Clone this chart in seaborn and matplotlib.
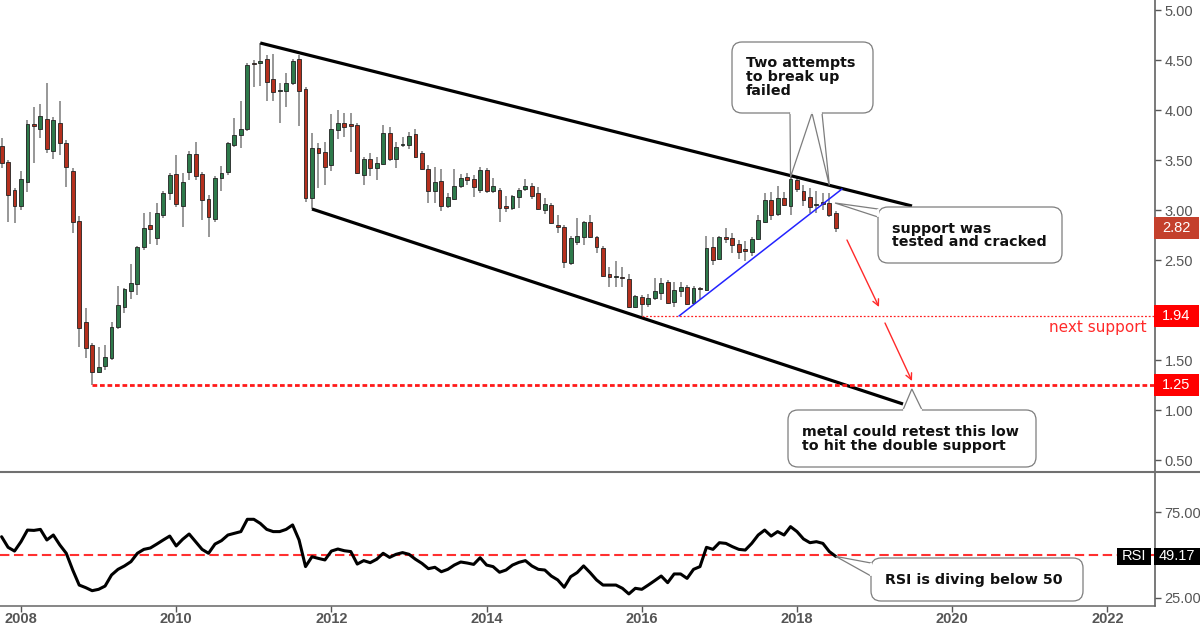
import numpy as np
import pandas as pd
import matplotlib
matplotlib.use('Agg')
import matplotlib.pyplot as plt
import seaborn as sns
from matplotlib.patches import FancyBboxPatch, Polygon, Rectangle
from matplotlib.lines import Line2D
from matplotlib.transforms import Affine2D, blended_transform_factory

# ---------------- data (monthly candles, Oct 2007 - Jul 2018) ----------------
months = pd.date_range('2007-10-01', periods=130, freq='MS')

opens = [3.64, 3.48, 3.20, 3.04, 3.28, 3.86, 3.81, 3.91, 3.59, 3.87,
         3.67, 3.39, 2.89, 1.88, 1.65, 1.38, 1.44, 1.52, 1.83, 2.03,
         2.19, 2.26, 2.63, 2.85, 2.72, 2.95, 3.17, 3.36, 3.04, 3.38,
         3.56, 3.36, 3.11, 2.91, 3.32, 3.38, 3.65, 3.75, 3.81, 4.47,
         4.47, 4.51, 4.31, 4.19, 4.19, 4.27, 4.51, 4.21, 3.12, 3.62,
         3.58, 3.45, 3.80, 3.87, 3.86, 3.85, 3.35, 3.51, 3.42, 3.46,
         3.77, 3.51, 3.65, 3.65, 3.76, 3.57, 3.41, 3.19, 3.29, 3.04,
         3.11, 3.24, 3.33, 3.31, 3.20, 3.40, 3.19, 3.20, 3.04, 3.02,
         3.13, 3.21, 3.24, 3.17, 3.00, 3.05, 2.85, 2.83, 2.47, 2.68,
         2.73, 2.88, 2.73, 2.62, 2.36, 2.33, 2.33, 2.31, 2.03, 2.13,
         2.06, 2.12, 2.17, 2.28, 2.08, 2.19, 2.23, 2.07, 2.22, 2.20,
         2.63, 2.51, 2.73, 2.72, 2.66, 2.61, 2.58, 2.71, 2.88, 3.10,
         2.96, 3.12, 3.04, 3.30, 3.19, 3.13, 3.05, 3.08, 3.07, 2.97]
highs = [3.72, 3.50, 3.22, 3.39, 3.90, 4.03, 4.06, 4.27, 3.93, 4.09,
         3.70, 3.42, 2.94, 2.02, 1.67, 1.63, 1.65, 1.88, 2.24, 2.22,
         2.46, 2.64, 2.97, 2.98, 3.07, 3.19, 3.37, 3.55, 3.37, 3.59,
         3.68, 3.38, 3.15, 3.34, 3.44, 3.68, 3.92, 4.09, 4.47, 4.50,
         4.67, 4.55, 4.56, 4.27, 4.37, 4.51, 4.55, 4.23, 3.77, 3.67,
         3.68, 3.96, 4.00, 3.97, 3.97, 3.87, 3.53, 3.57, 3.53, 3.85,
         3.83, 3.68, 3.73, 3.78, 3.81, 3.59, 3.45, 3.43, 3.41, 3.17,
         3.41, 3.36, 3.37, 3.35, 3.43, 3.42, 3.32, 3.22, 3.14, 3.15,
         3.22, 3.31, 3.27, 3.23, 3.12, 3.07, 2.95, 2.85, 2.74, 2.92,
         2.89, 2.95, 2.74, 2.64, 2.43, 2.49, 2.43, 2.36, 2.15, 2.15,
         2.16, 2.32, 2.32, 2.30, 2.28, 2.28, 2.25, 2.24, 2.23, 2.74,
         2.73, 2.74, 2.82, 2.77, 2.70, 2.69, 2.73, 2.95, 3.17, 3.18,
         3.24, 3.18, 3.33, 3.33, 3.25, 3.22, 3.19, 3.17, 3.17, 2.99]
lows = [3.42, 2.88, 2.87, 3.00, 3.18, 3.47, 3.72, 3.57, 3.51, 3.55,
        3.23, 2.77, 1.63, 1.52, 1.25, 1.37, 1.40, 1.50, 1.81, 1.97,
        2.11, 2.15, 2.60, 2.66, 2.65, 2.92, 3.10, 3.03, 2.83, 3.30,
        3.30, 2.90, 2.73, 2.88, 3.19, 3.35, 3.63, 3.62, 3.79, 4.23,
        4.24, 4.09, 4.09, 3.87, 4.03, 4.25, 3.84, 3.08, 3.01, 3.22,
        3.25, 3.39, 3.71, 3.73, 3.58, 3.36, 3.25, 3.34, 3.30, 3.45,
        3.49, 3.42, 3.63, 3.61, 3.52, 3.40, 3.07, 3.07, 2.99, 3.02,
        3.10, 3.22, 3.25, 3.13, 3.17, 3.17, 3.17, 2.88, 2.98, 3.00,
        3.02, 3.19, 3.11, 3.00, 2.96, 2.86, 2.77, 2.42, 2.45, 2.65,
        2.65, 2.72, 2.57, 2.33, 2.23, 2.23, 2.23, 2.02, 2.02, 1.94,
        2.03, 2.10, 2.10, 2.06, 2.03, 2.13, 2.05, 2.06, 2.11, 2.19,
        2.45, 2.50, 2.67, 2.57, 2.51, 2.49, 2.54, 2.70, 2.87, 2.90,
        2.94, 3.04, 2.95, 3.18, 3.04, 2.97, 2.97, 3.00, 2.93, 2.78]
closes = [3.47, 3.15, 3.04, 3.31, 3.86, 3.84, 3.94, 3.61, 3.90, 3.67,
          3.43, 2.88, 1.82, 1.62, 1.38, 1.43, 1.53, 1.83, 2.05, 2.21,
          2.27, 2.63, 2.82, 2.81, 2.97, 3.17, 3.35, 3.06, 3.28, 3.56,
          3.34, 3.10, 2.93, 3.32, 3.37, 3.67, 3.75, 3.81, 4.45, 4.46,
          4.49, 4.28, 4.18, 4.20, 4.27, 4.49, 4.19, 3.12, 3.62, 3.57,
          3.43, 3.81, 3.87, 3.83, 3.84, 3.37, 3.51, 3.42, 3.47, 3.77,
          3.51, 3.63, 3.66, 3.74, 3.53, 3.41, 3.19, 3.28, 3.04, 3.13,
          3.24, 3.32, 3.30, 3.23, 3.40, 3.19, 3.24, 3.02, 3.02, 3.14,
          3.20, 3.24, 3.14, 3.01, 3.06, 2.87, 2.83, 2.48, 2.72, 2.74,
          2.88, 2.73, 2.63, 2.34, 2.33, 2.34, 2.32, 2.03, 2.14, 2.06,
          2.12, 2.19, 2.27, 2.07, 2.20, 2.23, 2.06, 2.22, 2.21, 2.62,
          2.50, 2.73, 2.71, 2.65, 2.58, 2.59, 2.71, 2.90, 3.10, 2.95,
          3.12, 3.05, 3.31, 3.21, 3.10, 3.03, 3.06, 3.06, 2.95, 2.82]
rsi = [60.7, 54.5, 52.3, 57.8, 64.6, 64.4, 65.0, 58.8, 61.7, 55.9,
       51.0, 41.2, 32.4, 30.9, 29.1, 29.9, 31.8, 38.3, 41.6, 43.6,
       46.1, 51.0, 53.3, 54.1, 56.4, 58.8, 61.1, 55.3, 59.2, 62.3,
       57.8, 53.3, 51.0, 56.4, 58.4, 61.7, 62.7, 63.7, 70.9, 70.9,
       68.5, 65.0, 63.7, 63.7, 65.0, 67.6, 58.8, 43.2, 49.0, 48.0,
       47.1, 52.3, 53.5, 52.5, 52.0, 44.7, 46.7, 45.5, 47.5, 51.0,
       48.6, 50.4, 51.4, 50.4, 47.5, 45.1, 42.0, 42.8, 40.2, 41.6,
       44.1, 45.9, 45.3, 44.5, 48.4, 44.1, 43.2, 39.9, 41.2, 44.1,
       45.7, 46.7, 43.6, 41.6, 41.2, 37.7, 35.4, 31.1, 37.3, 39.7,
       43.6, 39.7, 35.4, 32.4, 32.4, 32.4, 30.5, 27.2, 30.5, 29.9,
       32.4, 35.0, 37.7, 33.8, 38.9, 38.9, 36.3, 41.6, 43.2, 54.5,
       53.3, 57.2, 56.8, 54.9, 53.3, 52.9, 56.8, 61.7, 64.6, 61.1,
       63.7, 61.7, 66.6, 63.7, 59.4, 57.2, 57.8, 56.8, 52.0, 49.17]

year_ticks = [2008, 2010, 2012, 2014, 2016, 2018, 2020, 2022]
price_ticks = [0.5, 1.0, 1.5, 2.5, 3.0, 3.5, 4.0, 4.5, 5.0]
rsi_ticks = [25, 75]
next_support = 1.94
double_support = 1.25
last_price = 2.82
last_rsi = 49.17
rsi_mid = 50
channel_top_x = [2011.083, 2019.482]
channel_top_y = [4.67, 3.04]
channel_bot_x = [2011.75, 2019.366]
channel_bot_y = [3.01, 1.06]
support_x = [2016.48, 2018.58]
support_y = [1.94, 3.21]

# ---------------- style ----------------
sns.set_style('white')
plt.rcParams['font.family'] = ['DejaVu Sans']

W, H = 1200, 628
fig = plt.figure(figsize=(W / 100, H / 100), dpi=100, facecolor='white')
ax = fig.add_axes([0, 1 - 471.5 / H, 1155 / W, 471.5 / H])
ax2 = fig.add_axes([0, 1 - 605.5 / H, 1155 / W, 134 / H])

t = months.year + (months.month - 1) / 12.0
df = pd.DataFrame(dict(t=np.asarray(t, dtype=float), open=opens, high=highs,
                       low=lows, close=closes, rsi=rsi))
up = (df['close'] >= df['open']).to_numpy()
GREEN, RED = '#2e7a4b', '#b5301e'
XL = (2007.7294, 2022.6134)

# candles
ax.vlines(df['t'], df['low'], df['high'], color='#7a7a7a', lw=1.1, zorder=2)
body = (df['close'] - df['open']).to_numpy()
body = np.where(np.abs(body) < 0.012, np.where(up, 0.012, -0.012), body)
ax.bar(df['t'], body, bottom=df['open'], width=0.05,
       color=np.where(up, GREEN, RED), edgecolor='#222222', linewidth=0.6, zorder=3)

# channel, support lines
ax.plot(channel_top_x, channel_top_y, color='black', lw=2.3, solid_capstyle='butt', zorder=4)
ax.plot(channel_bot_x, channel_bot_y, color='black', lw=2.3, solid_capstyle='butt', zorder=4)
ax.plot(support_x, support_y, color='#2323ff', lw=1.1, zorder=4)
ax.plot([df['t'][99], XL[1]], [next_support] * 2, color='#ff2020', lw=0.9,
        dashes=(1.5, 1.5), zorder=4)
ax.plot([df['t'][14], XL[1]], [double_support] * 2, color='#ff1a1a', lw=2.0,
        dashes=(1.7, 1.0), zorder=4)

# arrows
for (x0, y0), (x1, y1) in [((2018.644, 2.70), (2019.057, 2.03)),
                           ((2019.134, 1.87), (2019.482, 1.29))]:
    ax.annotate('', xy=(x1, y1), xytext=(x0, y0),
                arrowprops=dict(arrowstyle='->', color='#ff2a2a', lw=1.0,
                                shrinkA=0, shrinkB=0, mutation_scale=11), zorder=6)
ax.text(2022.51, 1.827, 'next support', color='#ff2a2a', ha='right', va='center',
        fontsize=11)

# RSI
sns.lineplot(data=df, x='t', y='rsi', ax=ax2, color='black', lw=2.2, zorder=3)
ax2.axhline(rsi_mid, color='#ff3030', lw=1.5, dashes=(4.5, 2.2), zorder=2)

# axes limits / ticks
for a in (ax, ax2):
    a.set_xlim(*XL)
    a.set_facecolor('white')
    a.set_xlabel('')
    a.set_ylabel('')
    a.yaxis.tick_right()
    for s in ('left', 'top', 'bottom'):
        a.spines[s].set_visible(False)
    a.spines['right'].set_color('#555555')
    a.spines['right'].set_linewidth(1.1)
ax.set_ylim(0.385, 5.1)
ax2.set_ylim(20.43, 98.89)
ax.set_xticks([])
ax.set_yticks(price_ticks)
ax.set_yticklabels([f'{v:.2f}' for v in price_ticks])
ax2.set_yticks(rsi_ticks)
ax2.set_yticklabels([f'{v:.2f}' for v in rsi_ticks])
ax2.set_xticks(year_ticks)
ax2.set_xticklabels([str(y) for y in year_ticks])
ax2.spines['bottom'].set_visible(True)
ax2.spines['bottom'].set_color('#666666')
ax2.spines['bottom'].set_linewidth(1.1)
for a in (ax, ax2):
    a.tick_params(axis='y', direction='out', length=4, width=1, color='#555555',
                  labelcolor='#555555', labelsize=10.5, pad=3, right=True, left=False)
    for lb in a.get_yticklabels():
        lb.set_fontfamily('Liberation Sans')
ax2.tick_params(axis='x', direction='out', length=4, width=1, color='#555555',
                labelcolor='#555555', labelsize=10.5, pad=1, bottom=True)
for lb in ax2.get_xticklabels():
    lb.set_fontfamily('Liberation Sans')
    lb.set_fontweight('bold')

# separator between panels
fig.add_artist(Line2D([0, 1], [1 - 471.5 / H] * 2, transform=fig.transFigure,
                      color='#707070', lw=1.5, zorder=30))

# price / value boxes
def value_box(a, val, fc, half, x0, x1, label=None):
    bt = blended_transform_factory(a.transAxes, a.transData)
    a.add_patch(Rectangle((x0 / 1155, val - half), (x1 - x0) / 1155, 2 * half,
                          transform=bt, fc=fc, ec='none', clip_on=False, zorder=10))
    a.text((x0 + x1) / 2 / 1155, val, label if label else f'{val:.2f}', transform=bt,
           ha='center', va='center', color='white', fontsize=10.5,
           family='Liberation Sans', zorder=11, clip_on=False)

value_box(ax, last_price, '#c4402c', 0.11, 1154, 1199)
value_box(ax, next_support, '#ff0000', 0.11, 1154, 1199)
value_box(ax, double_support, '#ff0000', 0.11, 1154, 1199)
value_box(ax2, last_rsi, '#000000', 5.0, 1154, 1200)
value_box(ax2, last_rsi, '#000000', 5.0, 1117, 1151, label='RSI')

# ---------------- callout bubbles (pixel space, top-left origin) ----------------
PIX = Affine2D().scale(1, -1).translate(0, H)

def to_pix(a, x, y):
    X, Y = a.transData.transform((x, y))
    return (X, H - Y)

def bubble(x0, y0, x1, y1, tails, text, tx, ty):
    fig.add_artist(FancyBboxPatch((x0, y0), x1 - x0, y1 - y0,
                                  boxstyle='round,pad=0,rounding_size=10', transform=PIX,
                                  fc='white', ec='#7d7d7d', lw=0.9, zorder=20))
    for b0, b1, tip in tails:
        fig.add_artist(Polygon([b0, tip, b1], closed=True, transform=PIX, fc='white',
                               ec='#7d7d7d', lw=0.9, zorder=21))
        dx, dy = b1[0] - b0[0], b1[1] - b0[1]
        n = np.hypot(dx, dy)
        ux, uy = dx / n, dy / n
        fig.add_artist(Line2D([b0[0] + 1.2 * ux, b1[0] - 1.2 * ux],
                              [b0[1] + 1.2 * uy, b1[1] - 1.2 * uy],
                              transform=PIX, color='white', lw=1.7, zorder=22))
    fig.text(tx, ty, text, transform=PIX, ha='left', va='center', fontsize=10.3,
             fontweight='bold', color='#111111', linespacing=1.0, zorder=23)

tip1 = to_pix(ax, df['t'][122], df['high'][122])
slope = (channel_top_y[1] - channel_top_y[0]) / (channel_top_x[1] - channel_top_x[0])
tip2 = to_pix(ax, df['t'][128], channel_top_y[0] + slope * (df['t'][128] - channel_top_x[0]))
bubble(732, 42, 873, 113,
       [((790, 113), (812, 113), tip1), ((812, 113), (822, 113), tip2)],
       'Two attempts\nto break up\nfailed', 746, 77)
bubble(878, 207, 1062, 263,
       [((878, 209), (878, 217), to_pix(ax, 2018.49, 3.07))],
       'support was\ntested and cracked', 892, 235.5)
bubble(788, 410, 1036, 467,
       [((922, 410), (903, 410), to_pix(ax, 2019.48, 1.21))],
       'metal could retest this low\nto hit the double support', 802, 439)
bubble(871, 558, 1083, 601,
       [((871, 563), (871, 576), to_pix(ax2, df['t'].iloc[-1], df['rsi'].iloc[-1]))],
       'RSI is diving below 50', 885, 580)

fig.savefig('out.png', dpi=100, facecolor='white')
